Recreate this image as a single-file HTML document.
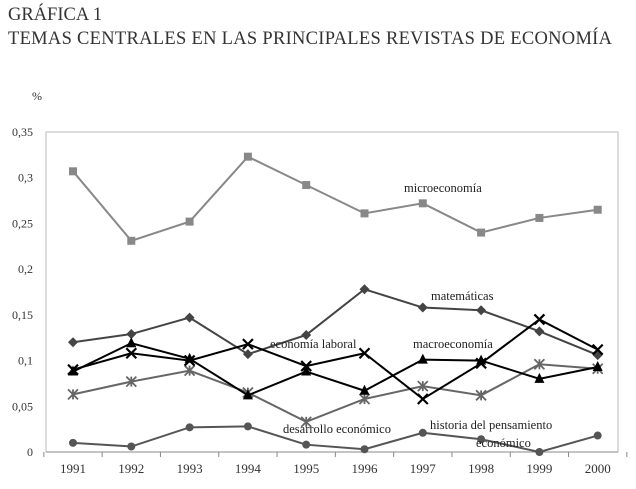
<!DOCTYPE html>
<html><head><meta charset="utf-8"><style>
body{margin:0;background:#fff;width:636px;height:484px;overflow:hidden;font-family:"Liberation Serif",serif;}
</style></head><body>
<svg width="636" height="484">
<text x="8" y="20" font-size="18.5" fill="#333">GRÁFICA 1</text>
<text x="8" y="44" font-size="18.5" fill="#333" textLength="604">TEMAS CENTRALES EN LAS PRINCIPALES REVISTAS DE ECONOMÍA</text>
<text x="32" y="100" font-size="12" fill="#333">%</text>
<rect x="46" y="132" width="572" height="320" fill="none" stroke="#bbb"/>
<g id="g"></g>
</svg>
<script>
const years=["1991","1992","1993","1994","1995","1996","1997","1998","1999","2000"];
const yTicks=[0,0.05,0.1,0.15,0.2,0.25,0.3,0.35];
const yTickLabels=["0","0,05","0,1","0,15","0,2","0,25","0,3","0,35"];
const micro=[0.307,0.231,0.252,0.323,0.292,0.261,0.272,0.240,0.256,0.265];
const mate=[0.120,0.129,0.147,0.107,0.128,0.178,0.158,0.155,0.132,0.106];
const macro=[0.088,0.119,0.102,0.062,0.088,0.067,0.101,0.100,0.080,0.093];
const laboral=[0.090,0.108,0.100,0.118,0.094,0.108,0.058,0.097,0.145,0.112];
const desarrollo=[0.063,0.077,0.089,0.065,0.033,0.058,0.072,0.062,0.096,0.091];
const historia=[0.010,0.006,0.027,0.028,0.008,0.003,0.021,0.014,0.000,0.018];
const L=46,R=618,T=132,B=452,YMAX=0.35;
const step=58.3,X0=73;
const X=i=>X0+step*i;
const Y=v=>B-(v/YMAX)*(B-T);
const g=document.getElementById('g');
const NS="http://www.w3.org/2000/svg";
function mk(tag,a){const e=document.createElementNS(NS,tag);for(const k in a)e.setAttribute(k,a[k]);g.appendChild(e);return e;}
yTicks.forEach((v,i)=>{const t=mk('text',{x:33,y:Y(v)+4,'font-size':12,'text-anchor':'end',fill:'#333'});t.textContent=yTickLabels[i];

});
const ax=mk('line',{x1:L,y1:B,x2:R,y2:B,stroke:'#888'});


for(let i=0;i<=years.length;i++){const tk=mk('line',{x1:X(i)-step/2,y1:B,x2:X(i)-step/2,y2:B+5,stroke:'#888'});

}
years.forEach((y,i)=>{const t=mk('text',{x:X(i),y:B+21,'font-size':13,'text-anchor':'middle',fill:'#333'});t.textContent=y;

});
function marker(type,x,y,c){
 let e;
 if(type==='sq')e=mk('rect',{x:x-4,y:y-4,width:8,height:8,fill:c});
 else if(type==='dia')e=mk('polygon',{points:`${x},${y-5} ${x+5},${y} ${x},${y+5} ${x-5},${y}`,fill:c});
 else if(type==='tri')e=mk('polygon',{points:`${x},${y-6} ${x+5},${y+4} ${x-5},${y+4}`,fill:c});
 else if(type==='x')e=mk('path',{d:`M${x-5} ${y-5}L${x+5} ${y+5}M${x+5} ${y-5}L${x-5} ${y+5}`,stroke:c,'stroke-width':2.2});
 else if(type==='ast')e=mk('path',{d:`M${x-5} ${y-5}L${x+5} ${y+5}M${x+5} ${y-5}L${x-5} ${y+5}M${x} ${y-5}L${x} ${y+5}`,stroke:c,'stroke-width':1.8});
 else e=mk('circle',{cx:x,cy:y,r:4,fill:c});
 return e;
}
function series(name,vals,c,type,w){
 const p=mk('polyline',{points:vals.map((v,i)=>X(i)+','+Y(v)).join(' '),fill:'none',stroke:c,'stroke-width':w});
 
 
 vals.forEach((v,i)=>{const m=marker(type,X(i),Y(v),c);
 
 });
}
series('microeconomia',micro,'#888','sq',2);
series('desarrollo',desarrollo,'#666','ast',2);
series('historia',historia,'#555','circ',2);
series('matematicas',mate,'#444','dia',2);
series('macroeconomia',macro,'#000','tri',2);
series('economia-laboral',laboral,'#000','x',2);
const labels=[["microeconomía",404,192],["matemáticas",431,300],["economía laboral",270,348],["macroeconomía",413,348],["desarrollo económico",283,433],["historia del pensamiento",430,429],["económico",476,447]];
labels.forEach(l=>{const t=mk('text',{x:l[1],y:l[2],'font-size':12.5,fill:'#222'});t.textContent=l[0];

});
</script>
</body></html>
